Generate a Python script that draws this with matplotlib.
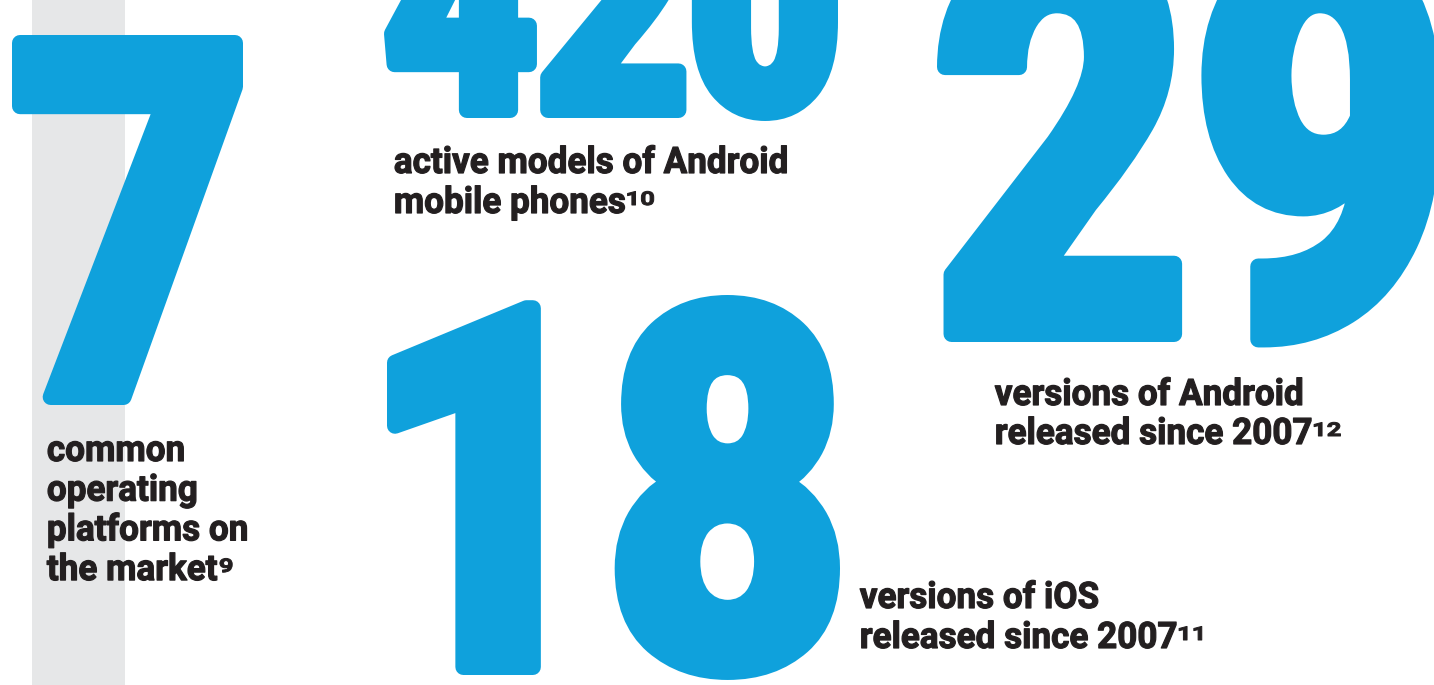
import matplotlib
matplotlib.use('Agg')
import matplotlib.pyplot as plt
import matplotlib.patheffects as pe
from matplotlib.font_manager import FontProperties
from matplotlib.textpath import TextPath
from matplotlib.transforms import Affine2D

# canvas in pixels
W, H, DPI = 1434, 685, 100

# the four headline figures and their captions
stat_values = ['7', '420', '18', '29']
stat_labels = [
    ['common', 'operating', 'platforms on', 'the market'],
    ['active models of Android', 'mobile phones'],
    ['versions of iOS', 'released since 2007'],
    ['versions of Android', 'released since 2007'],
]
stat_notes = ['9', '10', '11', '12']

# layout: ink box of each big number (left, right, baseline, digit height)
number_boxes = [
    (12, 243, 405, 370),
    (384, 838, 118, 235),
    (387, 840, 675, 380),
    (937, 1440, 342, 415),
]
# caption spots (ink left, first baseline, line gap)
label_spots = [
    (48, 461, 39.7),
    (395, 173, 40),
    (860, 608, 40),
    (995, 405, 39),
]

BLUE = '#0fa1dc'
INK = '#231f20'
GREY = '#e6e7e8'

num_font = FontProperties(family='Roboto', weight='black')
txt_font = FontProperties(family='Roboto', weight='bold')
LABEL_PX = 36.5
NOTE_PX = 19
NUM_FAT = 16      # extra outline on the big digits, px
TXT_FAT = 1.2


class Squeeze(pe.AbstractPathEffect):
    """Narrow the glyphs horizontally and optionally fatten them."""
    def __init__(self, sx, fatten=0):
        super().__init__()
        self.sx = sx
        self.fatten = fatten

    def draw_path(self, renderer, gc, tpath, affine, rgbFace=None):
        aff = Affine2D().scale(self.sx, 1.0) + affine
        if self.fatten:
            gc0 = renderer.new_gc()
            gc0.copy_properties(gc)
            gc0.set_linewidth(self.fatten * 72 / DPI)
            gc0.set_foreground(rgbFace, isRGBA=True)
            gc0.set_joinstyle('round')
            renderer.draw_path(gc0, tpath, aff, rgbFace)
            gc0.restore()
        else:
            renderer.draw_path(gc, tpath, aff, rgbFace)


def ink(s, prop, size_px):
    return TextPath((0, 0), s, size=size_px, prop=prop).get_extents()


def px2pt(px):
    return px * 72 / DPI


fig = plt.figure(figsize=(W / DPI, H / DPI), dpi=DPI)
ax = fig.add_axes([0, 0, 1, 1])
ax.set_xlim(0, W)
ax.set_ylim(H, 0)
ax.axis('off')

# grey strip behind the 7
ax.axvspan(32, 125, color=GREY, lw=0, zorder=0)

# big numbers
h = NUM_FAT / 2
for s, (left, right, base, height) in zip(stat_values, number_boxes):
    left, right, base, height = left + h, right - h, base - h, height - 2 * h
    ext = ink(s, num_font, 100)
    size = 100 * height / ext.y1
    k = size / 100
    sx = (right - left) / (ext.width * k)
    ax.text(left - ext.x0 * k * sx, base, s, family='Roboto', weight='black',
            size=px2pt(size), color=BLUE, ha='left', va='baseline',
            path_effects=[Squeeze(sx, NUM_FAT)], zorder=2)

# captions
label_sx = (308 - TXT_FAT) / ink('versions of Android', txt_font, LABEL_PX).width
note_sx = 1.35

for lines, note, (x, y0, gap) in zip(stat_labels, stat_notes, label_spots):
    x_text = x - ink(lines[0], txt_font, LABEL_PX).x0 * label_sx
    for i, line in enumerate(lines):
        y = y0 + i * gap
        ax.text(x_text, y, line, family='Roboto', weight='bold',
                size=px2pt(LABEL_PX), color=INK, ha='left', va='baseline',
                path_effects=[Squeeze(label_sx, TXT_FAT)], zorder=3)
    end = x_text + ink(lines[-1], txt_font, LABEL_PX).x1 * label_sx
    sup = ink(note, txt_font, NOTE_PX)
    ax.text(end + 3 - sup.x0 * note_sx, y - 8, note, family='Roboto', weight='bold',
            size=px2pt(NOTE_PX), color=INK, ha='left', va='baseline',
            path_effects=[Squeeze(note_sx, 1.0)], zorder=3)

fig.savefig('out.png', dpi=DPI)
